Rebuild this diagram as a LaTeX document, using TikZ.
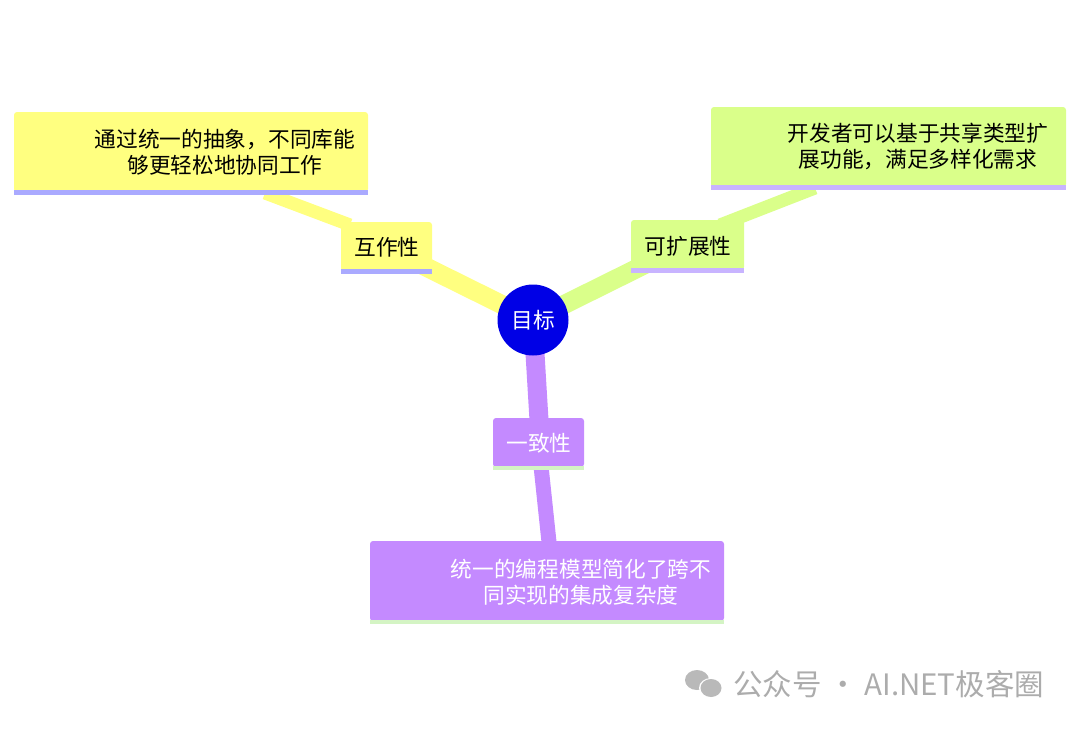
\documentclass[tikz,border=0pt]{standalone}
\usepackage{fontspec}
\newfontfamily\cjk{Noto Sans CJK SC}
\definecolor{yel}{HTML}{FFFF80}
\definecolor{grn}{HTML}{DAFF8A}
\definecolor{pur}{HTML}{C48AFF}
\definecolor{blu}{HTML}{0000E6}
\definecolor{lav}{HTML}{AAAAFF}
\definecolor{lav2}{HTML}{C8B4FF}
\definecolor{lgr}{HTML}{D4F4C4}
\tikzset{
 txt/.style={font=\cjk\fontsize{21.7}{26}\selectfont, align=center, inner sep=0pt},
 br/.style={line width=#1, line cap=butt},
}
\begin{document}
\begin{tikzpicture}[x=1pt,y=-1pt]
\useasboundingbox (0,0) rectangle (1080,729);
% connectors
\coordinate (c) at (533,320);
\draw[br=19pt,yel] (c) -- (420,264);
\draw[br=13pt,yel] (350,225) -- (265,193);
\draw[br=19pt,grn] (c) -- (650,262);
\draw[br=13pt,grn] (720,225) -- (815,188);
\draw[br=19pt,pur] (c) -- (539,420);
\draw[br=15pt,pur] (541,466) -- (549,542);
% boxes
\fill[yel,rounded corners=3pt] (14,112) rectangle (368,192);
\fill[lav] (14,190) rectangle (368,195);
\fill[yel,rounded corners=3pt] (341,222) rectangle (432,271);
\fill[lav] (341,269) rectangle (432,274);
\fill[grn,rounded corners=3pt] (711,107) rectangle (1066,187);
\fill[lav2] (711,185) rectangle (1066,190);
\fill[grn,rounded corners=3pt] (631,220) rectangle (744,270);
\fill[lav2] (631,268) rectangle (744,273);
\fill[pur,rounded corners=3pt] (493,418) rectangle (584,467);
\fill[lgr] (493,466) rectangle (584,470);
\fill[pur,rounded corners=3pt] (370,541) rectangle (724,621);
\fill[lgr] (370,620) rectangle (724,624);
% texts
\node[txt] (t1) at (225,152) {通过统一的抽象，不同库能\\够更轻松地协同工作};
\node[txt] (t2) at (387,247) {互作性};
\node[txt] (t3) at (918,146) {开发者可以基于共享类型扩\\展功能，满足多样化需求};
\node[txt] (t4) at (688,246) {可扩展性};
\node[txt,text=white] (t5) at (539,443) {一致性};
\node[txt,text=white] (t6) at (581,582) {统一的编程模型简化了跨不\\同实现的集成复杂度};
\node[circle,fill=blu,minimum size=71pt,inner sep=0pt,text=white,font=\cjk\fontsize{21.7}{26}\selectfont] (ctr) at (c) {目标};
% watermark
\fill[gray!55] (697,680) ellipse (12pt and 10pt);
\fill[white] (711,688) ellipse (12pt and 10pt);
\fill[gray!55] (711,688) ellipse (10.5pt and 9pt);
\node[font=\cjk\fontsize{29.5}{34}\selectfont,text=gray!65,anchor=west,inner sep=0pt] (wm) at (733,684) {公众号 · AI.NET极客圈};
\end{tikzpicture}
\end{document}
